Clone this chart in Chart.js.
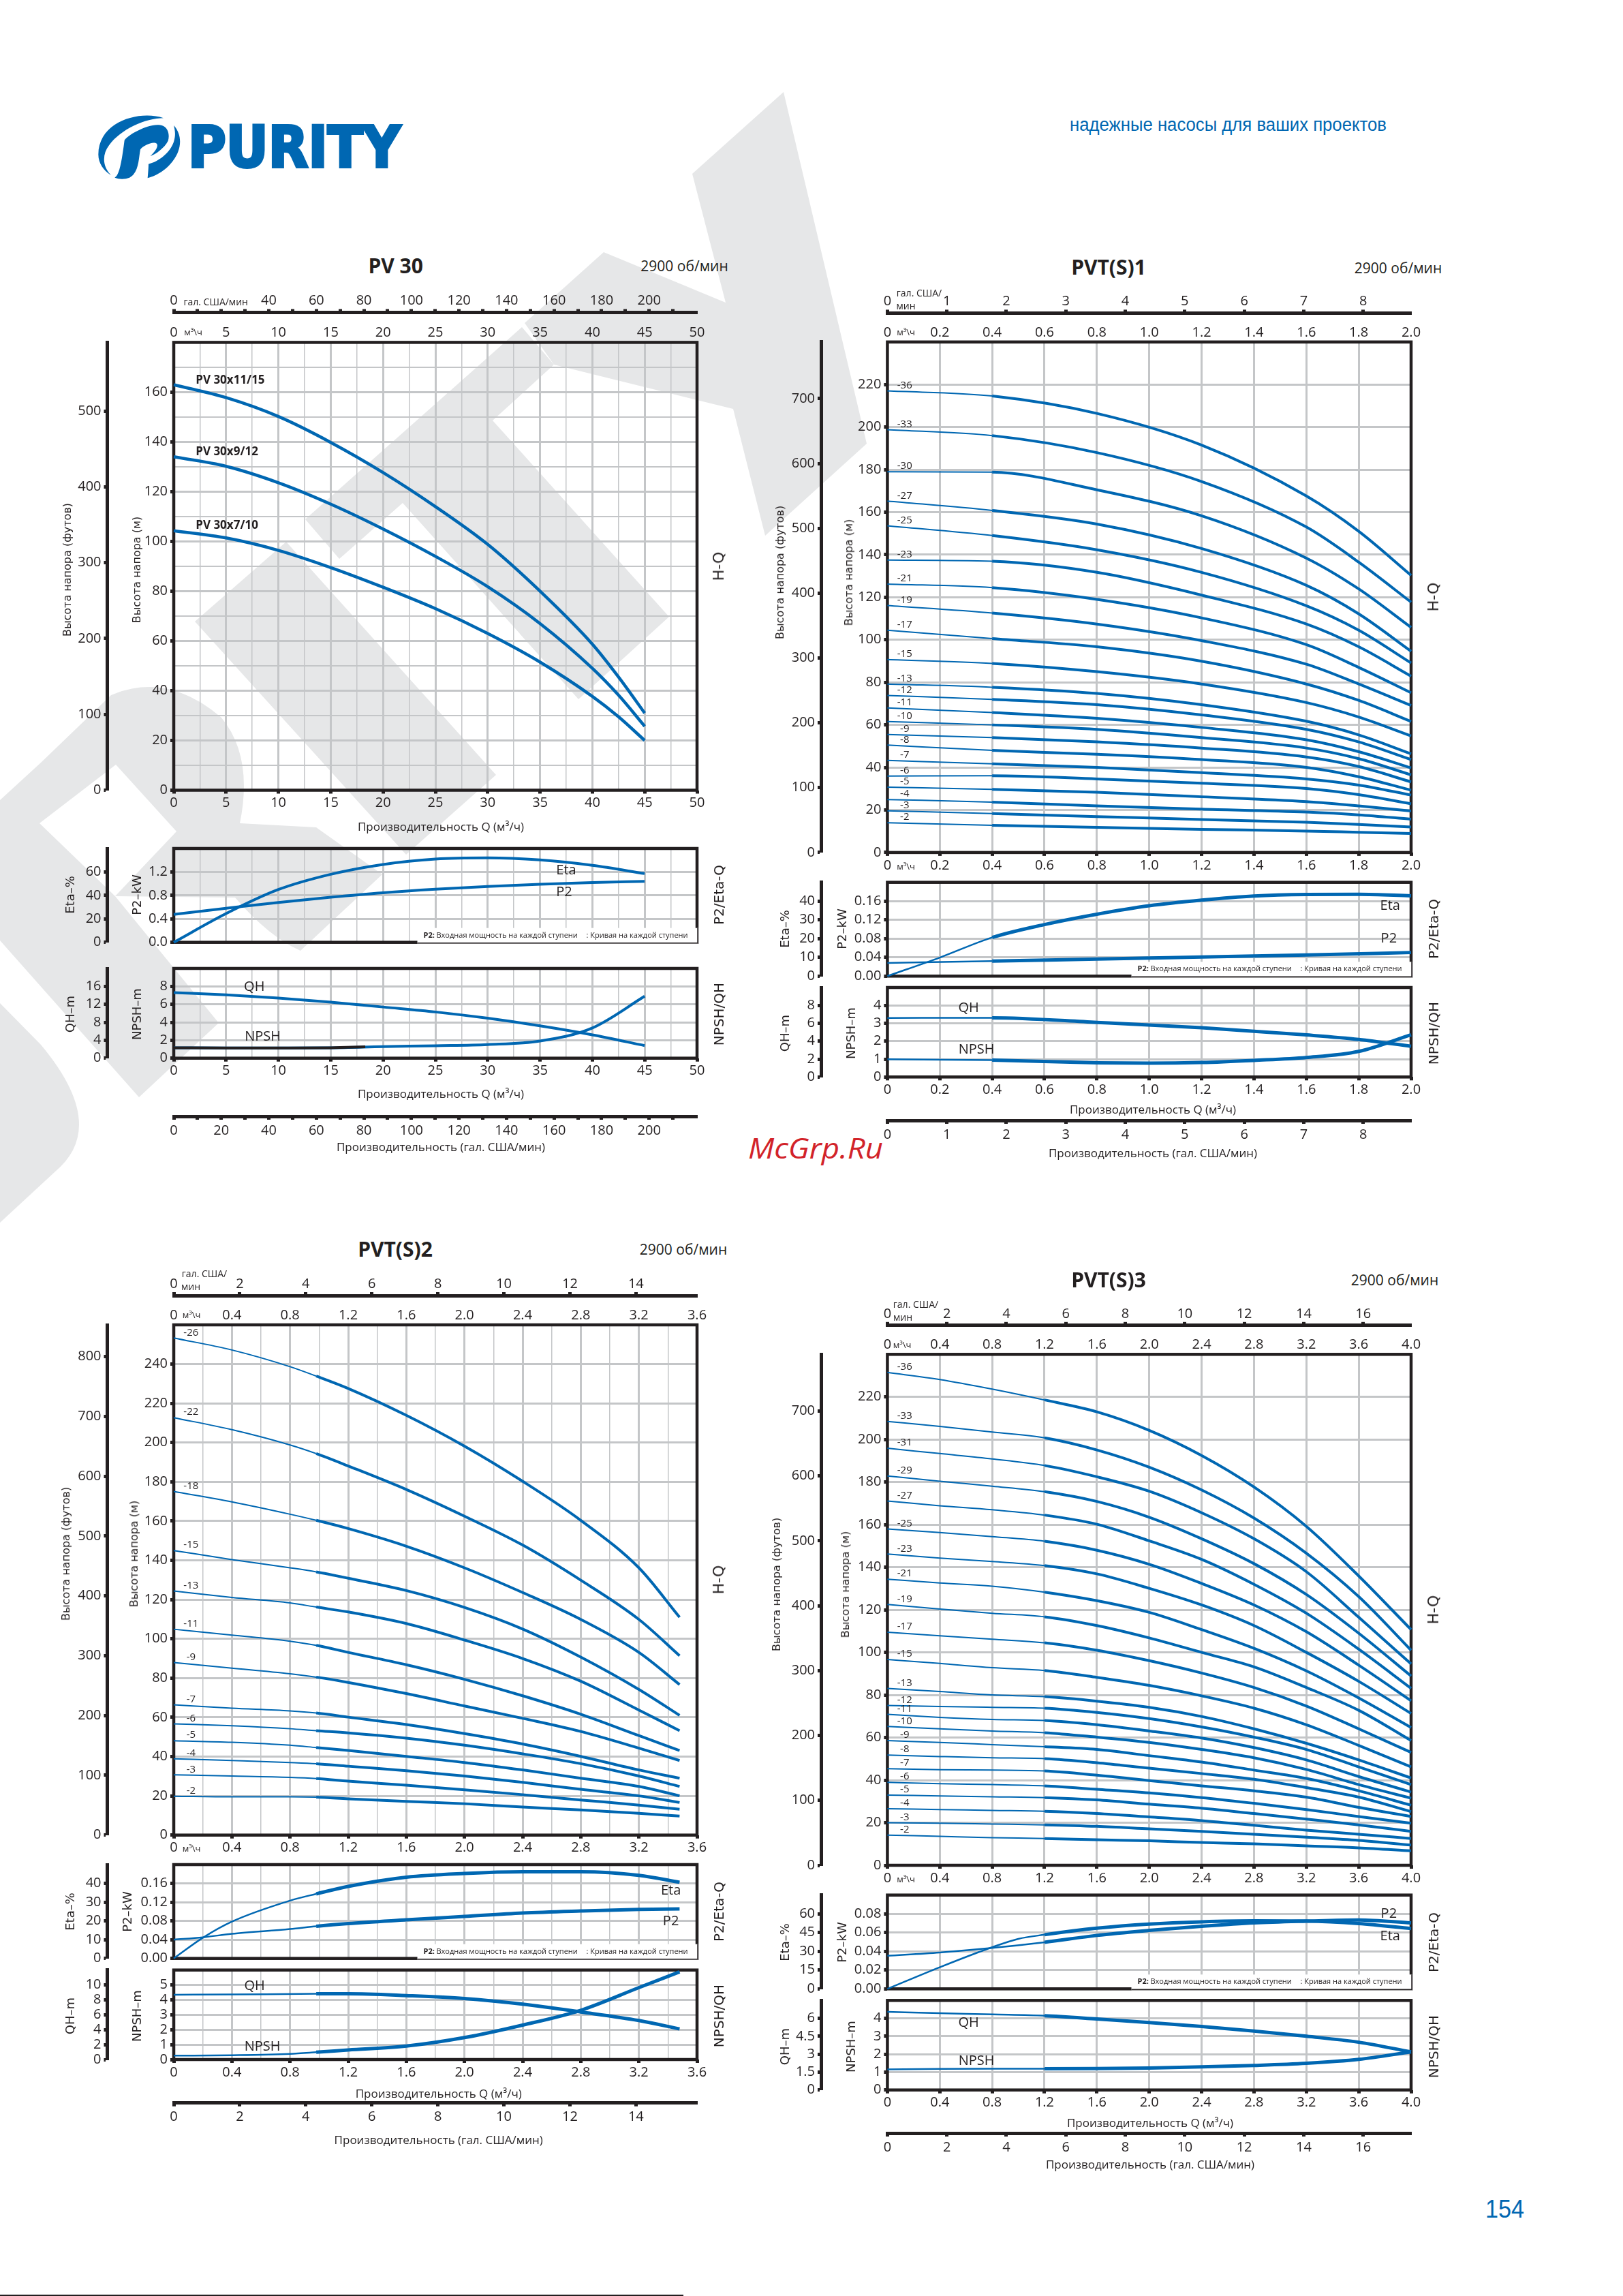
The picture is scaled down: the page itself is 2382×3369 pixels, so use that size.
<!DOCTYPE html>
<html lang="ru">
<head>
<meta charset="utf-8">
<title>PURITY PV 30, PVT(S)1-3</title>
<script src="https://cdn.jsdelivr.net/npm/chart.js@4"></script>
<style>
    html, body { margin: 0; padding: 0; background: #ffffff; }
    #pagina { position: relative; width: 2382px; height: 3369px; overflow: hidden; background: #ffffff; }
    #pagina svg { position: absolute; left: 0; top: 0; }
    #pagina canvas { position: absolute; }
    .txt { position: absolute; white-space: pre; color: #231f20; line-height: 1; }
</style>
</head>
<body>
<div id="pagina">
<svg width="2382" height="3369">
    <g fill="#e6e7e8">
        <polygon points="448,762 766,480 813,535 723,617 982,905 849,1026 591,738 498,820"/>
        <polygon points="420,795 728,1137 596,1254 286,912"/>
        <polygon points="770,474 886,370 1065,444 1016,255 1150,135 1272,651 1123,786 1076,600 813,535"/>
        <path d="M0 1174 L60 1119 L163 1020 Q246 985 325 1053 Q372 1110 352 1208 L464 1214 L561 1283 L441 1395 Q395 1375 345 1317 L169 1315 L259 1220 L170 1122 L58 1208 L169 1315 L321 1501 L204 1610 L0 1380 Z"/>
        <path d="M0 1472 L60 1533 Q116 1600 116 1650 Q116 1690 80 1720 L0 1794 Z"/>
    </g>
    <g fill="#0067b2" transform="translate(100,130) scale(0.3333)">
        <path d="M420 130 C320 95 135 140 133 290 C133 330 160 365 188 380 C150 340 150 290 180 250 C230 180 340 130 420 130 Z"/>
        <path d="M205 392 C225 380 235 330 248 228 C260 205 350 155 400 160 C435 162 450 195 440 230 C425 260 385 290 362 297 C380 280 400 255 390 242 C375 230 330 250 318 268 C310 310 312 370 270 392 C250 400 225 400 205 392 Z"/>
        <path d="M465 162 C505 205 500 270 460 320 C430 360 385 385 350 394 C352 370 354 350 354 332 C400 322 450 280 465 235 C475 205 470 180 465 162 Z"/>
    </g>
    <text x="276" y="245" fill="#0067b2" stroke="#0067b2" stroke-width="4" font-family="DejaVu Sans" font-weight="bold" font-size="83" textLength="312" lengthAdjust="spacingAndGlyphs">PURITY</text>
    <text x="1570" y="192" fill="#0067b2" font-family="Liberation Sans" font-size="27" textLength="465" lengthAdjust="spacingAndGlyphs">надежные насосы для ваших проектов</text>
    <text x="2180" y="3254" fill="#0067b2" font-family="Liberation Sans" font-size="36" textLength="57" lengthAdjust="spacingAndGlyphs">154</text>
    <text x="1098" y="1700" fill="#d2232a" font-family="Open Sans" font-style="italic" font-size="42" textLength="198" lengthAdjust="spacingAndGlyphs">McGrp.Ru</text>
    <rect x="0" y="3367" width="1003" height="2" fill="#231f20"/>
</svg>
</div>
<script>
// PV 30
const pvHeadFlow = [0, 5, 10, 15, 20, 25, 30, 35, 40, 42.5, 45];
const pvHead11 = [163, 157.8, 150.2, 139.8, 127.7, 114, 98.8, 80, 58.7, 45.5, 31];
const pvHead9 = [134, 130.2, 123.6, 115, 105, 94, 81.8, 67, 49, 38.2, 25.7];
const pvHead7 = [104.3, 101.4, 96.4, 89.5, 81.6, 73, 63, 51.5, 37.7, 29.5, 20];
const pvFlow = [0, 5, 10, 15, 20, 25, 30, 35, 40, 45];
const pvEta = [0, 24.5, 45, 58, 66.4, 71, 72, 70.2, 65.6, 58.6];
const pvP2 = [0.477, 0.58, 0.68, 0.768, 0.845, 0.905, 0.953, 0.99, 1.018, 1.04];
const pvQh = [14.6, 14.1, 13.4, 12.5, 11.4, 10.3, 8.9, 7.2, 5.2, 2.8];
const pvNpsh = [1.16, 1.14, 1.14, 1.16, 1.29, 1.39, 1.52, 1.92, 3.37, 6.9];
const pvNpshDarkFlow = [0, 5, 10, 15, 18.3];
const pvNpshDark = [1.16, 1.14, 1.14, 1.16, 1.26];

// PVT(S)1
const pvt1Stages = ['-36', '-33', '-30', '-27', '-25', '-23', '-21', '-19', '-17', '-15', '-13', '-12', '-11', '-10', '-9', '-8', '-7', '-6', '-5', '-4', '-3', '-2'];
const pvt1Flow = [0, 0.4, 0.8, 1.2, 1.6, 1.8, 2.0];
const pvt1Head = [
    [217, 214.6, 206.4, 191.5, 167.6, 151, 130.3],
    [198.8, 196, 188, 174.4, 153, 136.5, 117.7],
    [179, 178.8, 170.5, 158.3, 138.4, 123.9, 105.8],
    [165.2, 160.8, 154.4, 142.9, 125.6, 112.2, 94.6],
    [153.6, 149, 142.3, 131.7, 116, 104.5, 89.1],
    [137.5, 136.9, 131.7, 121, 107.4, 96.7, 82.9],
    [126.2, 124.5, 119, 110.3, 97.7, 87, 75.1],
    [116.1, 112.6, 107.4, 99.6, 88.5, 79.2, 69.1],
    [104.5, 100.6, 96.7, 89.9, 79.2, 71.5, 61.6],
    [90.7, 88.9, 85, 79.2, 70.5, 63.7, 54.8],
    [79.2, 77.7, 74.8, 69.5, 61.7, 55.3, 46.4],
    [73.8, 72, 69.5, 64.7, 57.9, 52, 43.7],
    [68, 65.8, 63.1, 58.8, 53, 47.4, 39.8],
    [61.6, 60, 57.9, 54, 49.1, 44.1, 36.5],
    [55.5, 54, 52, 49.1, 44.9, 40.4, 33.2],
    [50.5, 48, 46.2, 43.7, 40, 35.6, 29.3],
    [43.3, 41.7, 40, 37.5, 34.6, 31.7, 27],
    [35.9, 36.1, 34.6, 32.6, 30.1, 27.2, 22.9],
    [30.7, 29.7, 28.3, 26.2, 23.9, 21.9, 19.5],
    [24.9, 23.7, 21.9, 20.4, 19, 17.7, 15.7],
    [19.6, 18.3, 16.9, 15.5, 14.2, 13.2, 12],
    [14, 12.8, 11.8, 10.9, 10.1, 9.5, 8.9]
];
const pvt1EtaFlow = [0, 0.2, 0.4, 0.6, 0.8, 1.0, 1.2, 1.4, 1.6, 1.8, 2.0];
const pvt1Eta = [0, 9.9, 20.6, 27.5, 33, 37.5, 40.5, 42.7, 43.5, 43.6, 42.8];
const pvt1P2Flow = [0, 0.4, 0.8, 1.2, 1.6, 2.0];
const pvt1P2 = [0.0281, 0.032, 0.0364, 0.0407, 0.045, 0.0504];
const pvt1QhFlow = [0, 0.4, 0.8, 1.2, 1.6, 1.8, 2.0];
const pvt1Qh = [6.6, 6.62, 6.1, 5.5, 4.7, 4.2, 3.43];
const pvt1NpshFlow = [0, 0.4, 0.8, 1.0, 1.2, 1.4, 1.6, 1.8, 2.0];
const pvt1Npsh = [0.99, 0.94, 0.79, 0.77, 0.81, 0.93, 1.09, 1.43, 2.36];

// PVT(S)2
const pvt2Stages = ['-26', '-22', '-18', '-15', '-13', '-11', '-9', '-7', '-6', '-5', '-4', '-3', '-2'];
const pvt2Flow = [0, 0.4, 0.8, 0.98, 1.2, 1.6, 2.0, 2.4, 2.8, 3.2, 3.48];
const pvt2Head = [
    [253.3, 247.2, 238.7, 233.9, 227.6, 213.9, 198.2, 180.3, 160.4, 136.2, 111],
    [212.7, 206.6, 198.8, 194.4, 188.1, 176.1, 162.5, 147.8, 129.9, 109.9, 91.4],
    [175.1, 169.8, 163.5, 160.4, 156.2, 147.2, 136.2, 123.6, 109.9, 93.1, 76.7],
    [145, 140.4, 136.2, 134.1, 130.9, 124.6, 116, 105, 90.7, 74.2, 61],
    [124.4, 121.1, 118.3, 116.2, 113.7, 107.8, 99.4, 90, 78.4, 63.7, 53.2],
    [104.9, 101.9, 98.8, 96.7, 93.1, 86.8, 79.4, 71, 61.6, 50.7, 43.1],
    [87.9, 85.1, 82.2, 80.5, 77.8, 72.1, 65.8, 59.5, 52.8, 44.3, 38],
    [66.4, 64.7, 63.3, 62.2, 60.1, 56.3, 51.7, 46.4, 40.1, 33.2, 29],
    [56.7, 55.7, 54.2, 53.2, 52.1, 49.4, 45.8, 41.4, 36.4, 30.1, 24.8],
    [48.1, 47.3, 45.8, 44.6, 43.1, 40.1, 37, 33.2, 29, 24.8, 20],
    [38.9, 38, 37, 36.4, 35.1, 32.8, 30.1, 26.9, 23.3, 20, 16.6],
    [30.7, 30.1, 29.4, 28.8, 27.5, 25.4, 23.1, 20.6, 17.9, 15.3, 13.2],
    [19.8, 19.5, 19.5, 19.3, 18.5, 17.2, 16, 14.3, 12.8, 11.1, 9.7]
];
const pvt2EtaFlow = [0, 0.2, 0.4, 0.8, 0.98, 1.2, 1.6, 2.0, 2.4, 2.8, 3.2, 3.48];
const pvt2Eta = [0, 11, 19.6, 30.8, 34.4, 38.4, 43.3, 45.3, 46.2, 46.2, 44.3, 40.6];
const pvt2P2 = [0.04, 0.045, 0.0525, 0.0627, 0.0686, 0.0744, 0.0822, 0.0895, 0.0968, 0.1012, 0.1046, 0.1055];
const pvt2QhFlow = [0, 0.4, 0.98, 1.2, 1.6, 2.0, 2.4, 2.8, 3.2, 3.48];
const pvt2Qh = [8.69, 8.72, 8.81, 8.81, 8.57, 8.18, 7.42, 6.38, 5.23, 4.1];
const pvt2NpshFlow = [0, 0.4, 0.8, 0.98, 1.2, 1.6, 2.0, 2.4, 2.8, 3.2, 3.48];
const pvt2Npsh = [0.26, 0.29, 0.38, 0.49, 0.64, 0.9, 1.47, 2.31, 3.3, 4.82, 5.88];

// PVT(S)3
const pvt3Stages = ['-36', '-33', '-31', '-29', '-27', '-25', '-23', '-21', '-19', '-17', '-15', '-13', '-12', '-11', '-10', '-9', '-8', '-7', '-6', '-5', '-4', '-3', '-2'];
const pvt3Flow = [0, 0.4, 0.8, 1.2, 1.6, 2.0, 2.4, 2.8, 3.2, 3.6, 4.0];
const pvt3Head = [
    [231.5, 228.2, 223.7, 218.6, 213, 204.3, 192.5, 177.7, 159.2, 135.9, 110.7],
    [208.5, 206.2, 203.5, 200.8, 195.1, 187, 176.3, 163.1, 146.6, 126.2, 101],
    [195.9, 193.4, 190.9, 187.8, 182.5, 175.7, 165.6, 153.4, 137.9, 116.5, 94.6],
    [182.9, 180.4, 178.1, 175.5, 170.9, 163.5, 153.4, 141.7, 127.2, 109, 88.9],
    [171.1, 168.9, 167, 164.5, 160.2, 152.4, 143.7, 132, 118.4, 101.5, 83.1],
    [158, 156.3, 154.4, 152.2, 148, 141.4, 132.4, 122.3, 109.7, 94, 77.3],
    [146.2, 144.3, 142.7, 140.8, 136.9, 130.1, 122.3, 112.6, 100, 86.4, 71.3],
    [134.4, 132.6, 131.1, 128.3, 124.3, 118.8, 110.7, 101.9, 91.3, 78.6, 64.7],
    [122.5, 120.4, 118.4, 116.7, 112.6, 106.8, 100, 93.2, 83.5, 72.8, 58.6],
    [109.5, 107.8, 106.2, 104.5, 101, 96.1, 90.3, 83.5, 74.8, 64.1, 53],
    [96.7, 94.8, 92.8, 91.5, 88.3, 84.5, 79.6, 73.8, 66, 56.3, 46.2],
    [83.1, 81.6, 80, 79.2, 77.1, 74.2, 69.9, 64.1, 57.3, 49.5, 41],
    [75.1, 74.6, 74.2, 73.8, 71.8, 68.9, 65, 60.2, 54.4, 46.2, 37.9],
    [70.9, 69.5, 68.5, 68, 66, 63.1, 59.8, 55.3, 49.5, 41.7, 34.4],
    [65.2, 64.1, 63.1, 62.3, 60.2, 57.7, 54.4, 50.5, 45, 37.9, 31.5],
    [58.6, 57.7, 56.7, 55.7, 54.4, 51.5, 48.5, 44.7, 40.8, 35, 28.2],
    [51.8, 51.1, 50.5, 50.1, 48.2, 45.6, 43.1, 40.4, 36.5, 32, 25.2],
    [45.4, 44.9, 44.7, 44.3, 42.3, 39.8, 37.3, 35, 32, 27.2, 22.9],
    [39, 38.3, 37.9, 37.3, 35.7, 34, 31.8, 29.1, 26.2, 22.9, 19.8],
    [33, 32.6, 32.2, 31.8, 30.7, 28.7, 26.8, 24.3, 21.7, 19, 15.9],
    [26.6, 26.2, 25.8, 25.4, 24.3, 22.7, 21, 18.8, 16.5, 14.6, 12.6],
    [20, 19.8, 19.4, 19, 18.3, 17.1, 15.9, 14.6, 13.2, 11.7, 9.5],
    [14.2, 13.6, 13, 12.6, 12, 11.5, 10.7, 10.1, 9.1, 8.2, 6.8]
];
const pvt3EtaFlow = [0, 0.4, 0.8, 1.0, 1.2, 1.6, 2.0, 2.4, 2.8, 3.2, 3.6, 4.0];
const pvt3Eta = [0, 17.3, 33.3, 40, 43.3, 48.5, 51.8, 53.6, 54.4, 54.2, 52.2, 48.2];
const pvt3LowFlow = [0, 0.4, 0.8, 1.2, 1.6, 2.0, 2.4, 2.8, 3.2, 3.6, 4.0];
const pvt3P2 = [0.0352, 0.0388, 0.0436, 0.0497, 0.057, 0.0623, 0.0667, 0.0703, 0.0722, 0.0735, 0.0703];
const pvt3Qh = [6.54, 6.43, 6.33, 6.22, 5.95, 5.65, 5.32, 4.94, 4.5, 4, 3.19];
const pvt3Npsh = [1.15, 1.18, 1.19, 1.19, 1.2, 1.23, 1.29, 1.37, 1.49, 1.71, 2.13];

const AZUL = '#0067b2';
const PRETO = '#231f20';
const CINZA = '#c4c6c8';
const FONTE = '"Open Sans", sans-serif';
const FONTE_LADO = '"DejaVu Sans", sans-serif';
const M_PARA_PES = 3.28084;
const M3H_PARA_GAL = 4.4029;
// caixa reservada aos rotulos dos eixos externos (Chart.js recorta o texto nela)
const FOLGA_ESQ = 70;
const FOLGA_TOPO = 36;
const FOLGA_BAIXO = 40;

Chart.defaults.color = PRETO;
Chart.defaults.font.family = FONTE;
Chart.defaults.font.size = 20;
Chart.defaults.animation = false;

let pagina = document.getElementById('pagina');

function texto(x, y, conteudo, tamanho, familia, peso, girado) {
    let el = document.createElement('div');
    el.className = 'txt';
    el.textContent = conteudo;
    el.style.left = x + 'px';
    el.style.top = y + 'px';
    el.style.fontSize = tamanho + 'px';
    el.style.fontFamily = familia || FONTE;
    el.style.fontWeight = peso || 'normal';
    el.style.transform = 'translate(-50%, -50%)' + (girado ? ' rotate(-90deg)' : '');
    el.style.zIndex = 5;
    pagina.appendChild(el);
}

function pontos(xs, ys) {
    return xs.map(function (x, i) { return { x: x, y: ys[i] }; });
}

function multiplo(valor, passo) {
    let r = valor / passo;
    return Math.abs(r - Math.round(r)) < 1e-6;
}

function curva(xs, ys, eixo, quebra, fino, grosso, cor) {
    return {
        data: pontos(xs, ys),
        yAxisID: eixo,
        borderColor: cor || AZUL,
        borderWidth: grosso,
        pointRadius: 0,
        fill: false,
        clip: false,
        cubicInterpolationMode: 'monotone',
        segment: {
            borderWidth: function (ctx) { return ctx.p0.parsed.x < quebra ? fino : grosso; }
        }
    };
}

function eixoExterno(posicao, maximo, passo, rotulo, ignorar, limite) {
    let teto = limite || maximo;
    let cheio = {
        type: 'linear',
        position: posicao,
        weight: 1,
        min: 0,
        max: maximo,
        border: { display: true, width: 5, color: PRETO },
        grid: {
            drawOnChartArea: false,
            tickLength: 5,
            tickWidth: 5,
            tickColor: PRETO
        },
        ticks: {
            stepSize: passo,
            includeBounds: false,
            autoSkip: false,
            maxRotation: 0,
            minRotation: 0,
            padding: posicao == 'top' ? 0 : 4,
            callback: function (v) {
                if (!multiplo(v, rotulo) || (ignorar && ignorar.includes(v))) {
                    return '';
                }
                return String(Math.round(v * 10) / 10);
            }
        }
    };
    // o passo precisa ficar exato: o maximo em pes ou galoes nao cai num multiplo
    cheio.afterBuildTicks = function (s) {
        let lista = [];
        for (let i = 0; i * passo < teto - 1e-6; i++) {
            lista.push({ value: i * passo });
        }
        s.ticks = lista;
    };
    cheio.afterFit = function (s) {
        if (posicao == 'left') {
            s.width = FOLGA_ESQ;
        } else {
            s.height = posicao == 'top' ? FOLGA_TOPO : FOLGA_BAIXO;
        }
    };
    return cheio;
}

// um grafico por painel; cada canvas cobre so a area do painel com folga
function painel(cfg) {
    let largura = cfg.x0 == 0 ? 1110 : 1272;
    let y0 = Math.round(cfg.t - 90);
    let altura = Math.round(cfg.b - cfg.t + 90 + 140);
    let topo = cfg.galTopo ? cfg.galTopo - FOLGA_TOPO : cfg.t;
    let alturaX = cfg.galBaixo ? cfg.galBaixo - cfg.b : FOLGA_BAIXO;
    let baixo = cfg.galBaixo ? cfg.galBaixo + FOLGA_BAIXO : cfg.b + FOLGA_BAIXO;

    let scales = {
        x: {
            type: 'linear',
            position: 'bottom',
            weight: 0,
            min: 0,
            max: cfg.qMax,
            border: { display: false },
            grid: {
                color: CINZA,
                lineWidth: function (ctx) { return multiplo(ctx.tick.value, cfg.qRotulo) ? 3 : 1.5; },
                drawTicks: cfg.marcasX !== false,
                tickLength: 5,
                tickWidth: 5,
                tickColor: function (ctx) {
                    return multiplo(ctx.tick.value, cfg.qRotulo) ? PRETO : 'rgba(0,0,0,0)';
                }
            },
            ticks: {
                display: cfg.rotulosX !== false,
                stepSize: cfg.qPasso,
                autoSkip: false,
                maxRotation: 0,
                minRotation: 0,
                padding: 2,
                callback: function (v) { return multiplo(v, cfg.qRotulo) ? cfg.qFmt(v) : ''; }
            },
            afterFit: function (s) { s.height = alturaX; }
        },
        y: {
            type: 'linear',
            position: 'left',
            weight: 0,
            min: 0,
            max: cfg.yMax,
            border: { display: false },
            grid: {
                color: CINZA,
                lineWidth: function (ctx) { return multiplo(ctx.tick.value, cfg.yRotulo) ? 3 : 2; },
                tickLength: 5,
                tickWidth: 5,
                tickColor: function (ctx) {
                    let v = ctx.tick.value;
                    return multiplo(v, cfg.yRotulo) && v < cfg.yMax - 1e-6 ? PRETO : 'rgba(0,0,0,0)';
                }
            },
            ticks: {
                stepSize: cfg.yPasso,
                autoSkip: false,
                padding: 4,
                callback: function (v) {
                    if (v >= cfg.yMax - 1e-6 || !multiplo(v, cfg.yRotulo)) {
                        return '';
                    }
                    return cfg.yDec ? v.toFixed(cfg.yDec) : String(Math.round(v));
                }
            },
            afterFit: function (s) { s.width = cfg.l - cfg.eixoX; }
        },
        yFora: eixoExterno('left', cfg.foraMax, cfg.foraPasso, cfg.foraPasso)
    };

    if (cfg.galTopo) {
        scales.xM3 = {
            type: 'linear',
            position: 'top',
            weight: 0,
            min: 0,
            max: cfg.qMax,
            border: { display: false },
            grid: { drawOnChartArea: false, drawTicks: false },
            ticks: {
                stepSize: cfg.qRotulo,
                autoSkip: false,
                maxRotation: 0,
                minRotation: 0,
                padding: 2,
                callback: function (v) { return cfg.qFmt(v); }
            },
            afterFit: function (s) { s.height = cfg.t - cfg.galTopo; }
        };
        scales.xGalTopo = eixoExterno('top', cfg.galMax, cfg.galPasso, cfg.galRotulo, cfg.galIgnorar, cfg.galLimite);
    }
    if (cfg.galBaixo) {
        scales.xGalBaixo = eixoExterno('bottom', cfg.galMax, cfg.galPasso, cfg.galRotulo, null, cfg.galLimite);
    }

    let enfeite = {
        id: 'enfeite',
        beforeDatasetsDraw: function (chart) {
            let a = chart.chartArea;
            let ctx = chart.ctx;
            ctx.save();
            ctx.strokeStyle = PRETO;
            ctx.lineWidth = 4.5;
            ctx.strokeRect(a.left, a.top, a.right - a.left, a.bottom - a.top);
            ctx.restore();
        },
        afterDatasetsDraw: function (chart) {
            let a = chart.chartArea;
            let ctx = chart.ctx;
            ctx.save();
            ctx.fillStyle = PRETO;
            ctx.textBaseline = 'middle';

            if (cfg.caixa) {
                let xc = a.right - 410.5;
                ctx.fillStyle = '#ffffff';
                ctx.fillRect(xc, a.bottom - 21, 412, 23);
                ctx.strokeStyle = PRETO;
                ctx.lineWidth = 1.5;
                ctx.beginPath();
                ctx.moveTo(xc, a.bottom + 1);
                ctx.lineTo(a.right + 1, a.bottom + 1);
                ctx.lineTo(a.right + 1, a.bottom - 21);
                ctx.stroke();
                ctx.fillStyle = PRETO;
                ctx.textAlign = 'left';
                ctx.font = 'bold 11px ' + FONTE;
                ctx.fillText('P2:', xc + 9, a.bottom - 10);
                ctx.font = '11px ' + FONTE;
                ctx.fillText('Входная мощность на каждой ступени', xc + 28, a.bottom - 10);
                ctx.fillText(': Кривая на каждой ступени', xc + 248, a.bottom - 10);
            }

            // nomes das curvas
            (cfg.notas || []).forEach(function (n) {
                ctx.textAlign = n.esq ? 'left' : 'center';
                ctx.font = (n.esq ? 'bold 17px ' : '20px ') + FONTE;
                ctx.fillText(n.t, chart.scales.x.getPixelForValue(n.x), chart.scales.y.getPixelForValue(n.y));
            });

            // numero de estagios
            if (cfg.estagios) {
                ctx.textAlign = 'center';
                ctx.font = '15px ' + FONTE;
                cfg.estagios.forEach(function (nome, i) {
                    let px = chart.scales.x.getPixelForValue(cfg.qMax * 0.033);
                    let py = chart.scales.y.getPixelForValue(cfg.cabecas[i][0]) - 8;
                    ctx.fillText(nome, px, py);
                });
            }
            ctx.restore();
        }
    };

    let tela = document.createElement('canvas');
    tela.width = largura;
    tela.height = altura;
    tela.style.left = cfg.x0 + 'px';
    tela.style.top = y0 + 'px';
    tela.style.width = largura + 'px';
    tela.style.height = altura + 'px';
    pagina.appendChild(tela);

    cfg.datasets.forEach(function (d) { d.xAxisID = 'x'; });

    return new Chart(tela, {
        type: 'line',
        data: { datasets: cfg.datasets },
        options: {
            responsive: false,
            devicePixelRatio: 1,
            animation: false,
            parsing: true,
            events: [],
            layout: {
                padding: {
                    left: cfg.eixoX - FOLGA_ESQ - cfg.x0,
                    top: topo - y0,
                    right: largura - (cfg.r - cfg.x0),
                    bottom: altura - (baixo - y0)
                }
            },
            plugins: { legend: { display: false }, title: { display: false }, tooltip: { enabled: false } },
            scales: scales
        },
        plugins: [enfeite]
    });
}

function figura(f) {
    let comum = { x0: f.x0, l: f.l, r: f.r, eixoX: f.eixoX, qMax: f.qMax, qPasso: f.qPasso, qRotulo: f.qRotulo, qFmt: f.qFmt, galMax: f.qMax * M3H_PARA_GAL, galPasso: f.galPasso, galRotulo: f.galRotulo, galLimite: f.galLimite };

    painel(Object.assign({}, comum, {
        t: f.principal.t, b: f.principal.b, galTopo: f.galTopo, galIgnorar: f.galIgnorar,
        yMax: f.principal.yMax, yPasso: f.principal.yPasso, yRotulo: f.principal.yRotulo,
        foraMax: f.principal.yMax * M_PARA_PES, foraPasso: 100,
        datasets: f.principal.datasets, notas: f.principal.notas,
        estagios: f.principal.estagios, cabecas: f.principal.series
    }));
    painel(Object.assign({}, comum, {
        t: f.eta.t, b: f.eta.b, rotulosX: false, marcasX: false, caixa: true,
        yMax: f.eta.yMax, yPasso: f.eta.yPasso, yRotulo: f.eta.yPasso, yDec: f.eta.yDec,
        foraMax: f.eta.foraMax, foraPasso: f.eta.foraPasso,
        datasets: f.eta.datasets, notas: f.eta.notas
    }));
    painel(Object.assign({}, comum, {
        t: f.npsh.t, b: f.npsh.b, galBaixo: f.galBaixo,
        yMax: f.npsh.yMax, yPasso: f.npsh.yPasso, yRotulo: f.npsh.yPasso,
        foraMax: f.npsh.foraMax, foraPasso: f.npsh.foraPasso,
        datasets: f.npsh.datasets, notas: f.npsh.notas
    }));
}

function fmtInteiro(v) { return String(Math.round(v)); }
function fmtDecimal(v) { return Math.abs(v) < 1e-9 ? '0' : v.toFixed(1); }

function grupoCabecas(fluxo, cabecas, quebra) {
    return cabecas.map(function (h) { return curva(fluxo, h, 'y', quebra, 2, 4); });
}

// ---------- PV 30 ----------
figura({
    x0: 0, l: 255, r: 1023, eixoX: 157.5,
    qMax: 50, qPasso: 2.5, qRotulo: 5, qFmt: fmtInteiro,
    galPasso: 10, galRotulo: 20, galIgnorar: [20], galLimite: 215,
    galTopo: 458.5, galBaixo: 1638,
    principal: {
        t: 502.4, b: 1159.5, yMax: 180, yPasso: 10, yRotulo: 20, series: [],
        datasets: [
            curva(pvHeadFlow, pvHead11, 'y', 0, 4.5, 4.5),
            curva(pvHeadFlow, pvHead9, 'y', 0, 4.5, 4.5),
            curva(pvHeadFlow, pvHead7, 'y', 0, 4.5, 4.5)
        ],
        notas: [
            { t: 'PV 30x11/15', x: 2.1, y: 164.7, esq: true },
            { t: 'PV 30x9/12', x: 2.1, y: 136.1, esq: true },
            { t: 'PV 30x7/10', x: 2.1, y: 106.4, esq: true }
        ]
    },
    eta: {
        t: 1245, b: 1382.7, yMax: 1.6, yPasso: 0.4, yDec: 1, foraMax: 80, foraPasso: 20,
        datasets: [curva(pvFlow, pvEta, 'yFora', 0, 4, 4), curva(pvFlow, pvP2, 'y', 0, 4, 4)],
        notas: [{ t: 'Eta', x: 37.5, y: 1.22 }, { t: 'P2', x: 37.3, y: 0.857 }]
    },
    npsh: {
        t: 1421, b: 1552.7, yMax: 10, yPasso: 2, foraMax: 20, foraPasso: 4,
        datasets: [
            curva(pvNpshDarkFlow, pvNpshDark, 'y', 0, 4, 4, PRETO),
            curva(pvFlow, pvQh, 'yFora', 0, 4, 4),
            curva(pvFlow, pvNpsh, 'y', 0, 4, 4)
        ],
        notas: [{ t: 'QH', x: 7.7, y: 7.92 }, { t: 'NPSH', x: 8.5, y: 2.4 }]
    }
});

// ---------- PVT(S)1 ----------
figura({
    x0: 1110, l: 1302.4, r: 2071, eixoX: 1205,
    qMax: 2.0, qPasso: 0.2, qRotulo: 0.2, qFmt: fmtDecimal,
    galPasso: 1, galRotulo: 1,
    galTopo: 459.4, galBaixo: 1644,
    principal: {
        t: 501.8, b: 1250.9, yMax: 240, yPasso: 20, yRotulo: 20, series: pvt1Head,
        datasets: grupoCabecas(pvt1Flow, pvt1Head, 0.4), estagios: pvt1Stages
    },
    eta: {
        t: 1294.7, b: 1432.3, yMax: 0.2, yPasso: 0.04, yDec: 2, foraMax: 50, foraPasso: 10,
        datasets: [curva(pvt1EtaFlow, pvt1Eta, 'yFora', 0.4, 2.5, 5), curva(pvt1P2Flow, pvt1P2, 'y', 0.4, 2.5, 5)],
        notas: [{ t: 'Eta', x: 1.92, y: 0.15 }, { t: 'P2', x: 1.915, y: 0.08 }]
    },
    npsh: {
        t: 1449, b: 1580.3, yMax: 5, yPasso: 1, foraMax: 10, foraPasso: 2,
        datasets: [curva(pvt1QhFlow, pvt1Qh, 'yFora', 0.4, 2.5, 5), curva(pvt1NpshFlow, pvt1Npsh, 'y', 0.4, 2.5, 5)],
        notas: [{ t: 'QH', x: 0.31, y: 3.86 }, { t: 'NPSH', x: 0.34, y: 1.54 }]
    }
});

// ---------- PVT(S)2 ----------
figura({
    x0: 0, l: 255, r: 1023, eixoX: 157.5,
    qMax: 3.6, qPasso: 0.2, qRotulo: 0.4, qFmt: fmtDecimal,
    galPasso: 2, galRotulo: 2,
    galTopo: 1901, galBaixo: 3085.7,
    principal: {
        t: 1944, b: 2692.7, yMax: 260, yPasso: 20, yRotulo: 20, series: pvt2Head,
        datasets: grupoCabecas(pvt2Flow, pvt2Head, 0.98), estagios: pvt2Stages
    },
    eta: {
        t: 2736, b: 2873.7, yMax: 0.2, yPasso: 0.04, yDec: 2, foraMax: 50, foraPasso: 10,
        datasets: [curva(pvt2EtaFlow, pvt2Eta, 'yFora', 0.98, 2.5, 5), curva(pvt2EtaFlow, pvt2P2, 'y', 0.98, 2.5, 5)],
        notas: [{ t: 'Eta', x: 3.42, y: 0.145 }, { t: 'P2', x: 3.42, y: 0.079 }]
    },
    npsh: {
        t: 2890.7, b: 3022, yMax: 6, yPasso: 1, foraMax: 12, foraPasso: 2,
        datasets: [curva(pvt2QhFlow, pvt2Qh, 'yFora', 0.98, 2.5, 5), curva(pvt2NpshFlow, pvt2Npsh, 'y', 0.98, 2.5, 5)],
        notas: [{ t: 'QH', x: 0.556, y: 4.9 }, { t: 'NPSH', x: 0.61, y: 0.84 }]
    }
});

// ---------- PVT(S)3 ----------
figura({
    x0: 1110, l: 1302.4, r: 2071, eixoX: 1205,
    qMax: 4.0, qPasso: 0.4, qRotulo: 0.4, qFmt: fmtDecimal,
    galPasso: 2, galRotulo: 2,
    galTopo: 1944.8, galBaixo: 3130,
    principal: {
        t: 1987.3, b: 2737, yMax: 240, yPasso: 20, yRotulo: 20, series: pvt3Head,
        datasets: grupoCabecas(pvt3Flow, pvt3Head, 1.2), estagios: pvt3Stages
    },
    eta: {
        t: 2780.7, b: 2918.3, yMax: 0.1, yPasso: 0.02, yDec: 2, foraMax: 75, foraPasso: 15,
        datasets: [curva(pvt3EtaFlow, pvt3Eta, 'yFora', 1.2, 2.5, 5), curva(pvt3LowFlow, pvt3P2, 'y', 1.2, 2.5, 5)],
        notas: [{ t: 'P2', x: 3.83, y: 0.08 }, { t: 'Eta', x: 3.84, y: 0.0558 }]
    },
    npsh: {
        t: 2935.3, b: 3066.7, yMax: 5, yPasso: 1, foraMax: 7.5, foraPasso: 1.5,
        datasets: [curva(pvt3LowFlow, pvt3Qh, 'yFora', 1.2, 2.5, 5), curva(pvt3LowFlow, pvt3Npsh, 'y', 1.2, 2.5, 5)],
        notas: [{ t: 'QH', x: 0.62, y: 3.73 }, { t: 'NPSH', x: 0.68, y: 1.6 }]
    }
});

// textos fora dos eixos
function titulos(t) {
    texto(t.tit[0], t.tit[1], t.nome, 30, FONTE, 'bold');
    texto(t.rpm[0], t.rpm[1], '2900 об/мин', 21);
    texto(t.fora, t.h, 'Высота напора (футов)', 16, FONTE_LADO, 'normal', true);
    texto(t.dentro, t.h, 'Высота напора (м)', 16, FONTE_LADO, 'normal', true);
    texto(t.dir, t.hq, 'H-Q', 22, FONTE_LADO, 'normal', true);
    texto(t.fora2, t.ye, 'Eta–%', 18, FONTE_LADO, 'normal', true);
    texto(t.dentroP, t.ye, 'P2–kW', 18, FONTE_LADO, 'normal', true);
    texto(t.fora2, t.yn, 'QH–m', 18, FONTE_LADO, 'normal', true);
    texto(t.dentroN, t.yn, 'NPSH–m', 18, FONTE_LADO, 'normal', true);
    texto(t.dir, t.ye, 'P2/Eta-Q', 20, FONTE_LADO, 'normal', true);
    texto(t.dir, t.yn, 'NPSH/QH', 20, FONTE_LADO, 'normal', true);
    t.tituloQ.forEach(function (y) { texto(t.xt, y, 'Производительность Q (м³/ч)', 17); });
    texto(t.xt, t.tituloGal, 'Производительность (гал. США/мин)', 17);
    t.m3.forEach(function (p) { texto(p[0], p[1], 'м³\\ч', 13); });
    t.gal.forEach(function (g) { texto(g[0], g[1], g[2], 14); });
}

titulos({
    nome: 'PV 30', tit: [580.7, 390], rpm: [1004.5, 390],
    fora: 98.5, dentro: 200.6, h: 836, dir: 1055, hq: 831,
    fora2: 103, dentroP: 201, dentroN: 201, ye: 1313, yn: 1488,
    xt: 647, tituloQ: [1211.7, 1604], tituloGal: 1682,
    m3: [[283.5, 487]], gal: [[316.7, 443, 'гал. США/мин']]
});
titulos({
    nome: 'PVT(S)1', tit: [1627, 391.5], rpm: [2052, 393],
    fora: 1144.5, dentro: 1246, h: 840, dir: 2104, hq: 876,
    fora2: 1152, dentroP: 1236, dentroN: 1249, ye: 1363, yn: 1516,
    xt: 1692, tituloQ: [1626.7], tituloGal: 1691,
    m3: [[1329.6, 487], [1329.6, 1271]], gal: [[1349, 429.7, 'гал. США/'], [1329.6, 448.5, 'мин']]
});
titulos({
    nome: 'PVT(S)2', tit: [580, 1833], rpm: [1003, 1833],
    fora: 96.5, dentro: 197, h: 2280, dir: 1055, hq: 2318,
    fora2: 103, dentroP: 187, dentroN: 200.6, ye: 2805, yn: 2958,
    xt: 643.7, tituloQ: [3071], tituloGal: 3139,
    m3: [[281, 1928.5], [281, 2712]], gal: [[300, 1868.5, 'гал. США/'], [280, 1888, 'мин']]
});
titulos({
    nome: 'PVT(S)3', tit: [1627, 1877.6], rpm: [2047, 1877.6],
    fora: 1140, dentro: 1241, h: 2325, dir: 2104, hq: 2362,
    fora2: 1152, dentroP: 1236, dentroN: 1249, ye: 2850, yn: 3003,
    xt: 1688, tituloQ: [3114], tituloGal: 3175,
    m3: [[1324, 1973], [1329.6, 2757]], gal: [[1344, 1914, 'гал. США/'], [1325, 1933, 'мин']]
});
</script>
</body>
</html>
